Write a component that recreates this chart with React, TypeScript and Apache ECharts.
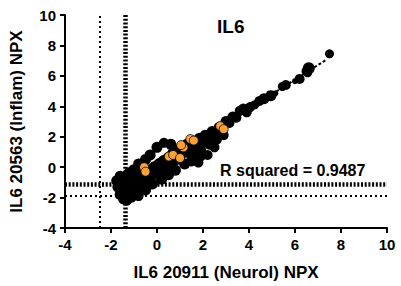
import React, { useEffect, useRef } from "react";
import * as echarts from "echarts";

const xTicks = [-4, -2, 0, 2, 4, 6, 8, 10];
const yTicks = [-4, -2, 0, 2, 4, 6, 8, 10];

// [x, y, size]
const blackPoints: number[][] = [
  [-1.6, -0.6, 11], [-1.5, -0.8, 11], [-1.45, -1.05, 12], [-1.4, -1.3, 12], [-1.35, -1.55, 11],
  [-1.2, -1.75, 11], [-1.1, -2.0, 10], [-0.9, -1.7, 11], [-1.3, -0.9, 12], [-1.1, -1.2, 12],
  [-1.0, -0.8, 12], [-0.85, -1.4, 11], [-0.7, -1.1, 12], [-0.75, -0.6, 12], [-0.6, -0.9, 12],
  [-0.5, -0.4, 12], [-0.4, -0.7, 12], [-0.3, -0.2, 12], [-0.2, -0.5, 11], [-0.1, 0.0, 12],
  [0.0, -0.3, 12], [0.1, 0.2, 12], [0.2, -0.1, 11], [0.3, 0.4, 12], [0.4, 0.1, 12],
  [0.5, 0.6, 12], [0.6, 0.3, 12], [0.7, 0.9, 12], [0.8, 0.5, 12], [0.9, 1.1, 12],
  [1.0, 0.8, 12], [1.1, 1.3, 12], [1.2, 1.0, 12], [1.3, 1.5, 11], [1.45, 1.2, 12],
  [1.6, 1.7, 11], [1.7, 1.45, 12], [1.85, 1.9, 11], [2.0, 1.7, 12], [2.1, 2.1, 11],
  [2.25, 1.9, 11], [2.4, 2.35, 11], [2.55, 2.2, 11], [2.7, 2.6, 11], [2.85, 2.45, 10],
  [3.0, 3.0, 11], [3.15, 2.9, 10], [3.3, 3.3, 11], [3.45, 3.25, 10], [3.6, 3.7, 10],
  [3.75, 3.85, 10], [3.9, 3.6, 10], [4.05, 3.95, 10], [4.25, 4.1, 9], [4.45, 4.35, 10],
  [4.65, 4.5, 11], [4.95, 4.7, 11], [5.15, 4.85, 6], [5.45, 5.3, 9], [5.6, 5.4, 10],
  [6.0, 5.65, 6], [6.2, 5.8, 10], [6.5, 6.3, 10], [6.6, 6.5, 12], [6.55, 6.2, 9],
  [7.5, 7.45, 9],
  [0.0, 1.3, 11], [0.3, 1.6, 10], [0.6, 1.5, 11], [-0.3, 0.8, 11], [-0.5, 0.5, 11],
  [-0.8, 0.2, 11], [-1.0, -0.2, 12], [-1.2, -0.4, 12],
  [1.8, 0.3, 10], [1.5, 0.4, 11], [2.2, 0.8, 10], [2.5, 1.3, 10], [1.2, 0.2, 11],
  [0.8, -0.2, 11], [0.5, -0.5, 11], [0.2, -0.8, 11], [-0.2, -1.1, 11], [-0.5, -1.5, 11],
  [-0.8, -1.9, 10],
  [1.5, 0.8, 11], [1.9, 1.1, 11], [2.3, 1.5, 11], [1.9, 0.7, 10], [2.6, 1.8, 10],
  [2.9, 2.1, 10], [-1.75, -0.9, 11], [-1.7, -1.3, 11], [-1.6, -1.8, 11], [-1.45, -2.1, 11],
  [-1.3, -2.2, 10], [-1.0, -1.6, 12], [-0.6, -1.3, 11],
];

const orangePoints: number[][] = [
  [-0.56, 0.0], [-0.5, -0.3], [0.52, 0.7], [0.7, 0.8], [1.0, 0.6],
  [1.15, 1.3], [1.05, 1.45], [1.45, 1.85], [1.6, 1.75], [2.75, 2.7], [2.9, 2.5],
];

const fitLine: number[][] = [[-1.6, -1.55], [7.35, 7.05]];

const rSquaredText = "R squared = 0.9487";
const vLines = { thin: -2.5, thick: -1.38 };
const hLines = { thick: -1.15, thin: -1.85 };

export default function App() {
  const ref = useRef<HTMLDivElement>(null);
  useEffect(() => {
    if (!ref.current) return;
    const chart = echarts.init(ref.current, null, { renderer: "svg" });
    const font = "'Liberation Sans', Arial, sans-serif";
    const axisCommon = {
      min: -4,
      max: 10,
      interval: 2,
      axisLine: { show: true, onZero: false, lineStyle: { color: "#000", width: 2 } },
      axisTick: { show: true, inside: false, length: 5, lineStyle: { color: "#000", width: 2 } },
      splitLine: { show: false },
      axisLabel: { color: "#000", fontWeight: "bold", fontSize: 15, fontFamily: font },
      nameLocation: "middle",
      nameTextStyle: { color: "#000", fontWeight: "bold", fontSize: 17, fontFamily: font },
    };
    const thinStyle = { color: "#000", width: 2, type: [2, 3] };
    const thickStyle = { color: "#000", width: 4.5, type: [2, 1.7] };
    chart.setOption({
      animation: false,
      title: {
        text: "IL6",
        left: 212,
        top: 12,
        textStyle: { color: "#000", fontWeight: "bold", fontSize: 19, fontFamily: font },
      },
      grid: { left: 64, right: 14, top: 15, bottom: 55, containLabel: false },
      xAxis: {
        ...axisCommon,
        type: "value",
        name: "IL6 20911 (Neurol) NPX",
        nameGap: 36,
        axisLabel: { ...axisCommon.axisLabel, margin: 9 },
      },
      yAxis: {
        ...axisCommon,
        type: "value",
        name: "IL6 20563 (Inflam) NPX",
        nameGap: 40,
        axisLabel: { ...axisCommon.axisLabel, margin: 9 },
      },
      graphic: [
        {
          type: "text",
          left: 220,
          top: 162,
          style: { text: rSquaredText, fill: "#000", font: `bold 16px ${font}` },
        },
      ],
      series: [
        {
          type: "line",
          data: fitLine,
          symbol: "none",
          lineStyle: { color: "#000", width: 2, type: [3, 2] },
          silent: true,
          z: 1,
          markLine: {
            silent: true,
            symbol: ["none", "none"],
            label: { show: false },
            data: [
              { xAxis: vLines.thin, lineStyle: thinStyle },
              { xAxis: vLines.thick, lineStyle: thickStyle },
              { yAxis: hLines.thick, lineStyle: thickStyle },
              { yAxis: hLines.thin, lineStyle: thinStyle },
            ],
          },
        },
        {
          type: "scatter",
          data: blackPoints,
          symbolSize: (d: number[]) => d[2],
          itemStyle: { color: "#000", opacity: 1 },
          z: 2,
        },
        {
          type: "scatter",
          data: orangePoints,
          symbolSize: 9,
          itemStyle: { color: "#F7A138", borderColor: "#000", borderWidth: 0.8, opacity: 1 },
          z: 3,
        },
      ],
    });
    return () => chart.dispose();
  }, []);
  return <div ref={ref} style={{ width: 401, height: 286, position: "absolute", left: 0, top: 0 }} />;
}
